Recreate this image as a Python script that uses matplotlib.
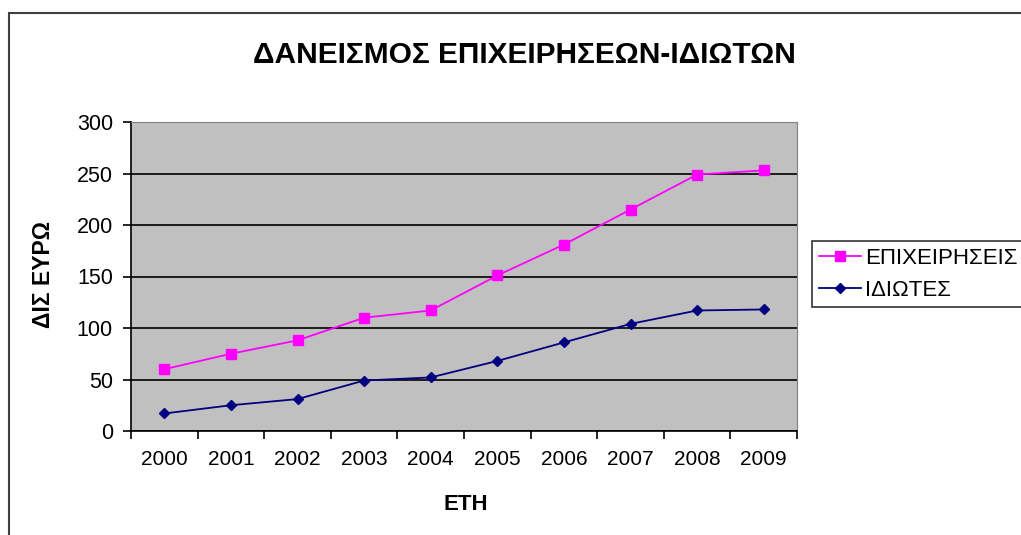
import matplotlib
matplotlib.use('Agg')
import matplotlib.pyplot as plt
from matplotlib.patches import Rectangle

years = ['2000', '2001', '2002', '2003', '2004', '2005', '2006', '2007', '2008', '2009']
epixeiriseis = [60, 75, 88, 110, 117, 151, 181, 215, 249, 253]
idiotes = [17, 25, 31, 49, 52, 68, 86, 104, 117, 118]
yticks = [0, 50, 100, 150, 200, 250, 300]

plt.rcParams['font.family'] = ['Liberation Sans', 'DejaVu Sans']

W, H = 1021, 535
fig = plt.figure(figsize=(W / 100, H / 100), dpi=100)

# chart frame (runs off the right and bottom edge like the screenshot)
fig.patches.append(Rectangle((9 / W, -0.1), 2, 1 - 13 / H + 0.1, transform=fig.transFigure,
                             fill=False, edgecolor='#404040', linewidth=1.5))

ax = fig.add_axes([131 / W, (H - 431) / H, 666 / W, 309 / H])
ax.set_facecolor('#C0C0C0')

x = list(range(len(years)))
ax.plot(x, epixeiriseis, color='#FF00FF', marker='s', markersize=6.5, linewidth=1.3,
        label='ΕΠΙΧΕΙΡΗΣΕΙΣ')
ax.plot(x, idiotes, color='#000080', marker='D', markersize=5.5, linewidth=1.3,
        label='ΙΔΙΩΤΕΣ')

ax.set_xlim(-0.5, len(years) - 0.5)
ax.set_ylim(0, 300)
ax.set_yticks(yticks)
ax.yaxis.grid(True, color='black', linewidth=1.2)
ax.set_axisbelow(True)

# ticks between categories, labels in the middle
ax.set_xticks([i - 0.5 for i in range(len(years) + 1)])
ax.set_xticklabels([])
ax.set_xticks(x, minor=True)
ax.set_xticklabels(years, minor=True)
ax.tick_params(axis='x', which='minor', length=0, pad=14, labelsize=15)
ax.tick_params(axis='x', which='major', length=6, width=1.2, direction='out')
ax.tick_params(axis='y', length=6, width=1.2, labelsize=15.5, pad=7)

for s in ['left', 'bottom']:
    ax.spines[s].set_color('black')
    ax.spines[s].set_linewidth(1.2)
for s in ['top', 'right']:
    ax.spines[s].set_color('#808080')

fig.text(524 / W, 1 - 55 / H, 'ΔΑΝΕΙΣΜΟΣ ΕΠΙΧΕΙΡΗΣΕΩΝ-ΙΔΙΩΤΩΝ', ha='center', va='center',
         fontsize=21.5, fontweight='bold')
fig.text(466 / W, 1 - 505 / H, 'ΕΤΗ', ha='center', va='center', fontsize=16, fontweight='bold')
fig.text(44 / W, 1 - 274 / H, 'ΔΙΣ ΕΥΡΩ', ha='center', va='center', rotation=90,
         fontsize=16.5, fontweight='bold')

leg = ax.legend(loc='upper left', bbox_to_anchor=(812 / W, 1 - 241 / H),
                bbox_transform=fig.transFigure, fontsize=16, frameon=True, fancybox=False,
                handlelength=1.9, handletextpad=0.2, borderpad=0.3, labelspacing=0.5,
                borderaxespad=0)
leg.get_frame().set_edgecolor('black')
leg.get_frame().set_linewidth(1.2)

fig.savefig('out.png', dpi=100)
